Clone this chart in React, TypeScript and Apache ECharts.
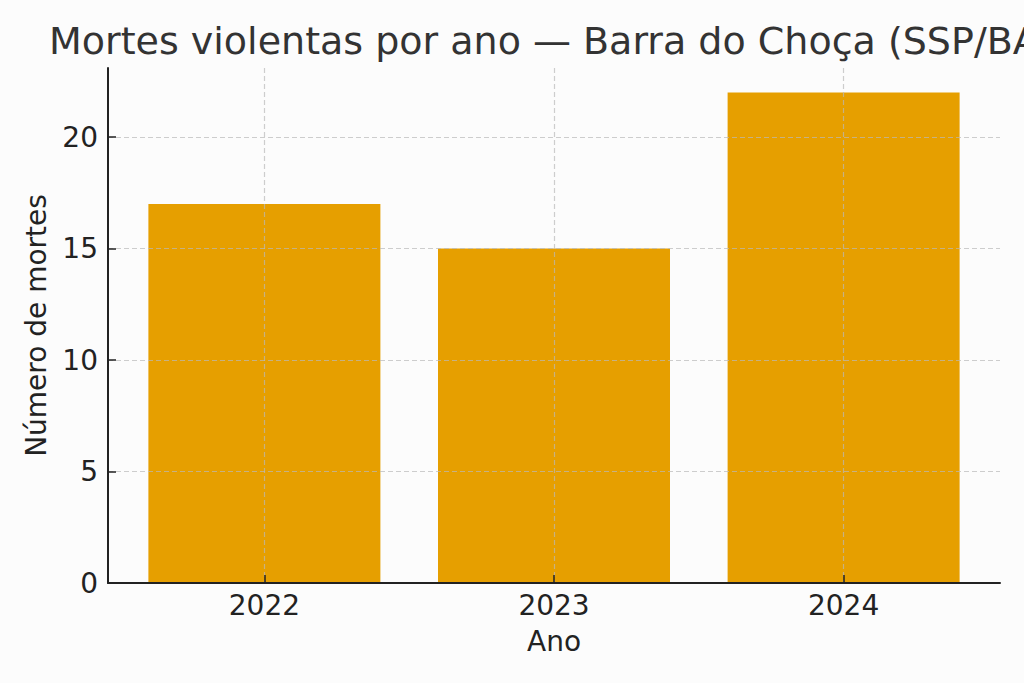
import React, { useEffect, useRef } from "react";
import * as echarts from "echarts";

const titleText = "Mortes violentas por ano — Barra do Choça (SSP/BA)";
const years = ["2022", "2023", "2024"];
const deaths = [17, 15, 22];
const xPositions = [0, 1, 2];
const yTicks = [0, 5, 10, 15, 20];

export default function App() {
  const ref = useRef<HTMLDivElement>(null);
  useEffect(() => {
    const chart = echarts.init(ref.current!, null, { renderer: "svg" });
    const font = "'DejaVu Sans', sans-serif";
    const ink = "#222222";
    const grid = { color: "rgba(185,185,185,0.7)", type: [5, 3] as number[], width: 1.2 };
    chart.setOption({
      animation: false,
      backgroundColor: "#fcfcfc",
      title: {
        text: titleText,
        left: 49,
        top: 22,
        padding: 0,
        textStyle: { fontFamily: font, fontSize: 38, fontWeight: "normal", color: "#333333" },
      },
      grid: { left: 108, right: 24, top: 68, bottom: 100 },
      xAxis: {
        type: "value",
        min: -0.54,
        max: 2.54,
        z: 4,
        name: "Ano",
        nameLocation: "middle",
        nameGap: 44,
        nameTextStyle: { fontFamily: font, fontSize: 28, color: ink },
        axisLine: { show: true, onZero: false, lineStyle: { color: ink, width: 2 } },
        axisTick: { show: true, inside: true, length: 8, customValues: xPositions, lineStyle: { color: ink, width: 1.5 } },
        axisLabel: {
          customValues: xPositions,
          formatter: (v: number) => years[Math.round(v)] ?? "",
          margin: 8,
          fontFamily: font,
          fontSize: 28,
          color: ink,
        },
        splitLine: { show: true, lineStyle: grid },
      },
      yAxis: {
        type: "value",
        min: 0,
        max: 23.1,
        z: 3,
        name: "Número de mortes",
        nameLocation: "middle",
        nameRotate: 90,
        nameGap: 58,
        nameTextStyle: { fontFamily: font, fontSize: 28, color: ink },
        axisLine: { show: true, onZero: false, lineStyle: { color: ink, width: 2 } },
        axisTick: { show: true, inside: true, length: 8, customValues: yTicks, lineStyle: { color: ink, width: 1.5 } },
        axisLabel: { customValues: yTicks, margin: 10, fontFamily: font, fontSize: 28, color: ink },
        splitLine: { show: true, lineStyle: grid },
      },
      series: [
        {
          type: "bar",
          data: deaths.map((v, i) => [xPositions[i], v]),
          barWidth: 232,
          itemStyle: { color: "#E69F00" },
          z: 2,
        },
      ],
    });
    return () => chart.dispose();
  }, []);
  return <div ref={ref} style={{ position: "fixed", left: 0, top: 0, width: 1024, height: 683 }} />;
}
